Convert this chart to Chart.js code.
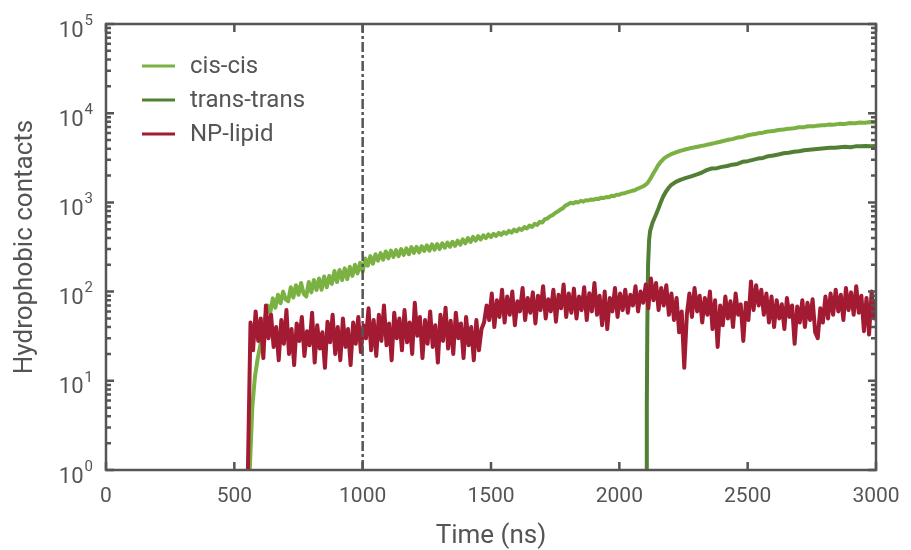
<html><head>
<title>Hydrophobic contacts</title>
<style>
  body {
    margin: 0;
    background-color: #fff;
  }
  #wrap {
    width: 911px;
    height: 550px;
  }
</style>
<script src="https://cdn.jsdelivr.net/npm/chart.js"></script>
</head>
<body>
  <div id="wrap"><canvas id="contactsChart" width="911" height="550"></canvas></div>

  <script>
    // NP-lipid contacts, one sample every 10 ns starting at 553 ns
    const npStart = 553, npStep = 10;
    const npLipid = [
      1,
      45, 22, 60, 28, 50, 18, 70, 30, 55, 24,
      40, 17, 48, 26, 62, 20, 38, 15, 44, 28,
      52, 19, 36, 25, 58, 16, 42, 23, 35, 14,
      46, 27, 55, 20, 40, 17, 50, 24, 38, 15,
      45, 26, 52, 21, 42,
      30, 65, 22, 48, 19, 55, 28, 70, 25, 44,
      17, 58, 30, 50, 22, 62, 27, 45, 20, 75,
      32, 52, 18, 48, 26, 60, 24, 42, 16, 55,
      28, 66, 23, 47, 20, 58, 30, 44, 18, 52,
      25, 40, 17, 48, 22, 38, 45,
      70, 48, 95, 40, 80, 52, 105, 45, 88, 55,
      100, 42, 78, 60, 110, 48, 85, 58, 98, 44,
      90, 62, 115, 50, 82, 60, 105, 46, 92, 65,
      120, 52, 95, 58, 108, 50, 88, 62, 112, 48,
      96, 60, 125, 55, 90, 42, 100, 38, 85, 60,
      110, 52, 95,
      62, 105, 58, 92, 70, 115, 60, 100, 75, 120,
      65, 140, 80, 125, 62, 110, 70, 118, 55, 95,
      48, 85, 35, 60, 14, 55, 95, 52, 110, 60,
      90, 45, 85, 55, 100, 38, 80, 24, 70, 42,
      88, 50, 78, 40, 95, 55, 72, 28, 75, 48,
      130, 62, 118, 70, 105, 55, 95, 45, 88, 40,
      80, 50, 72, 38, 85, 52, 70, 26, 68, 45,
      80, 40, 75, 48, 82, 35, 30, 65, 45, 88,
      50, 95, 55, 105, 60, 92, 48, 110, 62, 98,
      55, 115, 58, 90, 36, 85, 33, 100, 50, 80
    ];

    // cis-cis contacts, one sample every 10 ns starting at 560 ns
    const cisStart = 560, cisStep = 10;
    const cisCis = [
      1, 5, 11, 17, 24, 35, 50, 70, 58, 84,
      66, 92, 74, 100, 82, 78, 112, 86, 118, 92,
      125, 95, 88, 128, 98, 135, 104, 140, 105, 148,
      112, 150, 122, 170, 128, 175, 135, 182, 138, 190,
      150, 200, 160, 210, 168, 235, 195, 250, 205, 262,
      222, 270, 228, 282, 236, 288, 245, 292, 250, 300,
      258, 305, 262, 315, 272, 318, 275, 322, 285, 330,
      288, 338, 295, 342, 300, 348, 310, 355, 318, 362,
      326, 372, 335, 385, 348, 398, 360, 410, 372, 418,
      385, 428, 398, 438, 408, 445, 420, 455, 432, 465,
      445, 480, 458, 495, 472, 508, 490, 528, 510, 550,
      530, 575, 560, 605, 595, 650, 660, 700, 720, 760,
      790, 830, 860, 920, 950, 990, 975, 1010, 1000, 1040,
      1020, 1060, 1050, 1080, 1070, 1100, 1095, 1130, 1120, 1150,
      1145, 1185, 1180, 1220, 1215, 1260, 1265, 1300, 1320, 1350,
      1370, 1420, 1460, 1500, 1560, 1650, 1820, 2050, 2300, 2580,
      2820, 3020, 3200, 3330, 3450, 3550, 3640, 3720, 3800, 3870,
      3950, 4000, 4080, 4120, 4180, 4240, 4300, 4350, 4420, 4480,
      4550, 4620, 4700, 4760, 4850, 4920, 5000, 5080, 5120, 5230,
      5330, 5380, 5420, 5550, 5650, 5720, 5800, 5850, 5950, 6000,
      6050, 6150, 6250, 6270, 6300, 6400, 6480, 6520, 6550, 6640,
      6700, 6720, 6760, 6860, 6950, 6960, 6980, 7080, 7150, 7140,
      7160, 7250, 7300, 7310, 7330, 7400, 7450, 7440, 7460, 7540,
      7600, 7590, 7590, 7680, 7750, 7730, 7720, 7800, 7850, 7830,
      7820, 7900, 7950, 7920, 7900
    ];

    // trans-trans contacts (denser sampling around the onset)
    const transTime = [
      2105, 2107, 2109, 2112, 2116, 2120, 2130, 2140, 2150, 2160,
      2170, 2180, 2190, 2200, 2220, 2240, 2260, 2280, 2300, 2320,
      2340, 2360, 2380, 2400, 2420, 2440, 2460, 2480, 2500, 2520,
      2540, 2560, 2580, 2600, 2620, 2640, 2660, 2680, 2700, 2720,
      2740, 2760, 2780, 2800, 2820, 2840, 2860, 2880, 2900, 2920,
      2940, 2960, 2980, 3000
    ];
    const transTrans = [
      1, 5, 40, 200, 380, 480, 600, 700, 820, 980,
      1150, 1300, 1430, 1550, 1700, 1800, 1880, 1960, 2050, 2150,
      2300, 2400, 2420, 2500, 2560, 2650, 2700, 2850, 2900, 3000,
      3100, 3150, 3300, 3350, 3450, 3550, 3600, 3700, 3750, 3850,
      3900, 3950, 4000, 4050, 4100, 4100, 4150, 4200, 4150, 4250,
      4250, 4300, 4250, 4300
    ];

    const seriesLabels = ['cis-cis', 'trans-trans', 'NP-lipid'];
    const seriesColors = ['#7bb143', '#517f35', '#a21b32'];
    const xTicks = [0, 500, 1000, 1500, 2000, 2500, 3000];
    const yExponents = [0, 1, 2, 3, 4, 5];
    const markerTime = 1000;

    const textColor = '#555';
    const axisColor = '#555';
    const fontFamily = 'Roboto, "Open Sans", sans-serif';

    function regular(start, step, values) {
      return values.map((v, i) => ({ x: start + i * step, y: v }));
    }

    // frame with inward ticks on all four sides, tick labels, titles and legend
    const axisFrame = {
      id: 'axisFrame',
      afterDatasetsDraw(chart) {
        const { ctx, chartArea: a, scales: { x, y } } = chart;
        ctx.save();
        ctx.strokeStyle = axisColor;
        ctx.lineWidth = 2.5;
        ctx.beginPath();
        xTicks.forEach(v => {
          const px = x.getPixelForValue(v);
          ctx.moveTo(px, a.bottom);
          ctx.lineTo(px, a.bottom - 8);
          ctx.moveTo(px, a.top);
          ctx.lineTo(px, a.top + 8);
        });
        yExponents.forEach(e => {
          for (let m = 1; m < 10; m++) {
            if (e === 5 && m > 1) break;
            const py = y.getPixelForValue(m * Math.pow(10, e));
            const len = m === 1 ? 8 : 5;
            ctx.moveTo(a.left, py);
            ctx.lineTo(a.left + len, py);
            ctx.moveTo(a.right, py);
            ctx.lineTo(a.right - len, py);
          }
        });
        ctx.stroke();
        ctx.strokeRect(a.left, a.top, a.right - a.left, a.bottom - a.top);

        ctx.fillStyle = textColor;
        // x tick labels
        ctx.font = '21px ' + fontFamily;
        ctx.textAlign = 'center';
        ctx.textBaseline = 'middle';
        xTicks.forEach(v => {
          ctx.fillText(String(v), x.getPixelForValue(v), a.bottom + 27);
        });

        // y tick labels as 10 with a raised exponent
        const labelRight = a.left - 13;
        yExponents.forEach(e => {
          const py = y.getPixelForValue(Math.pow(10, e));
          ctx.font = '15px ' + fontFamily;
          ctx.textAlign = 'right';
          const expW = ctx.measureText(String(e)).width;
          ctx.fillText(String(e), labelRight, py - 3);
          ctx.font = '22px ' + fontFamily;
          ctx.fillText('10', labelRight - expW - 1, py + 7);
        });

        // axis titles
        ctx.font = '26px ' + fontFamily;
        ctx.textAlign = 'center';
        ctx.fillText('Time (ns)', (a.left + a.right) / 2, 536);
        ctx.save();
        ctx.translate(25, (a.top + a.bottom) / 2);
        ctx.rotate(-Math.PI / 2);
        ctx.fillText('Hydrophobic contacts', 0, 0);
        ctx.restore();

        // legend
        ctx.font = '24px ' + fontFamily;
        ctx.textAlign = 'left';
        ctx.lineWidth = 3;
        seriesLabels.forEach((label, i) => {
          const ly = 66 + i * 34;
          ctx.strokeStyle = seriesColors[i];
          ctx.beginPath();
          ctx.moveTo(142, ly);
          ctx.lineTo(175, ly);
          ctx.stroke();
          ctx.fillText(label, 190, ly + 1);
        });
        ctx.restore();
      }
    };

    new Chart(document.getElementById('contactsChart'), {
      type: 'line',
      data: {
        datasets: [
          {
            label: 'marker',
            data: [{ x: markerTime, y: 1 }, { x: markerTime, y: 1e5 }],
            borderColor: axisColor,
            borderWidth: 2.5,
            borderDash: [10, 3, 3, 3],
            order: 0
          },
          {
            label: seriesLabels[2],
            data: regular(npStart, npStep, npLipid),
            borderColor: seriesColors[2],
            borderWidth: 4,
            order: 1
          },
          {
            label: seriesLabels[1],
            data: transTime.map((t, i) => ({ x: t, y: transTrans[i] })),
            borderColor: seriesColors[1],
            borderWidth: 4,
            order: 2
          },
          {
            label: seriesLabels[0],
            data: regular(cisStart, cisStep, cisCis),
            borderColor: seriesColors[0],
            borderWidth: 4,
            order: 3
          }
        ]
      },
      options: {
        responsive: false,
        animation: false,
        devicePixelRatio: 1,
        layout: { padding: { left: 106, right: 35, top: 24, bottom: 80 } },
        elements: {
          point: { radius: 0 },
          line: { borderWidth: 3, tension: 0, borderJoinStyle: 'round' }
        },
        plugins: { legend: { display: false }, tooltip: { enabled: false } },
        scales: {
          x: { type: 'linear', min: 0, max: 3000, display: false },
          y: { type: 'logarithmic', min: 1, max: 1e5, display: false }
        }
      },
      plugins: [axisFrame]
    });
  </script>
</body></html>
